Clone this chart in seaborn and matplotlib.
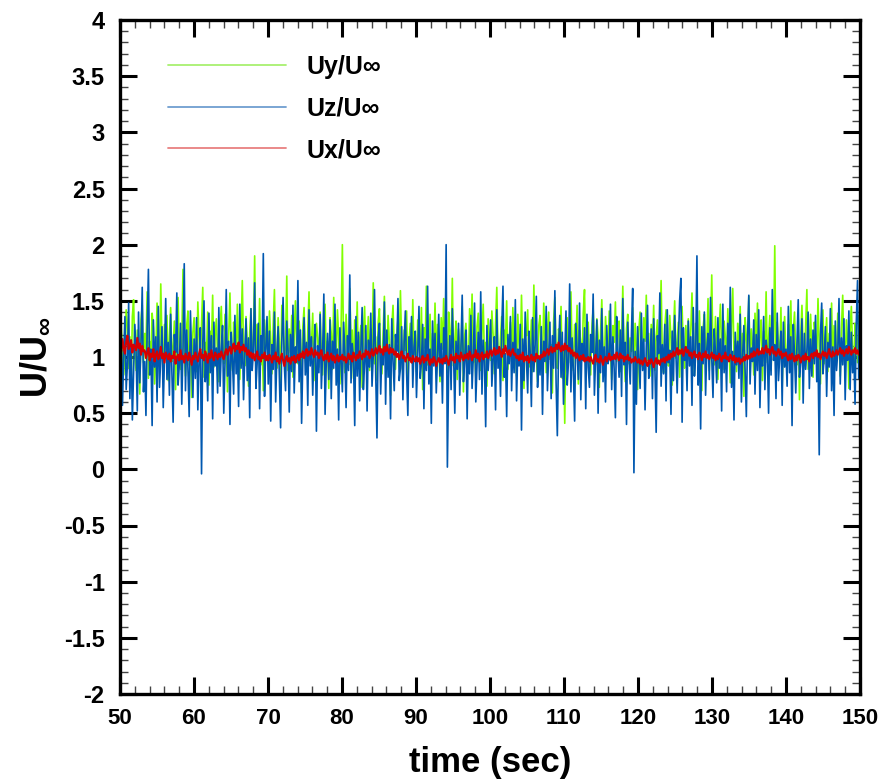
import numpy as np
import pandas as pd
import matplotlib
matplotlib.use("Agg")
import matplotlib.pyplot as plt
import seaborn as sns
from matplotlib.ticker import MultipleLocator
from matplotlib.lines import Line2D

# ---------------- data ----------------
t_start, t_end = 50.0, 150.0

uy = [
    1.12, 1.31, 0.98, 0.84, 1.05, 1.42, 1.27, 0.90, 1.18, 0.73, 1.36, 1.51, 1.02, 0.88, 1.24, 1.09, 0.67, 1.33, 1.46, 0.95,
    1.21, 1.07, 1.58, 0.81, 1.14, 0.99, 1.39, 1.26, 0.76, 1.03, 1.48, 1.17, 0.92, 1.65, 1.11, 0.86, 1.29, 1.01, 1.37, 0.79,
    1.19, 1.44, 0.96, 1.08, 1.32, 0.71, 1.25, 1.53, 1.06, 0.89, 1.15, 1.78, 1.00, 0.83, 1.28, 1.41, 0.93, 1.10, 0.64, 1.22,
    1.35, 1.04, 0.87, 1.49, 1.16, 0.97, 1.30, 1.62, 0.82, 1.13, 1.02, 1.40, 0.75, 1.23, 1.08, 1.55, 0.91, 1.19, 1.34, 0.99,
    0.78, 1.27, 1.45, 1.06, 0.94, 1.38, 1.12, 0.69, 1.20, 1.57, 1.03, 0.88, 1.31, 1.17, 0.95, 1.47, 1.09, 0.80, 1.26, 1.68,
    1.05, 0.92, 1.36, 1.14, 0.74, 1.22, 1.43, 0.98, 1.11, 1.90, 0.86, 1.29, 1.02, 1.52, 0.93, 1.18, 0.70, 1.33, 1.07, 1.24,
    0.96, 1.41, 1.16, 0.85, 1.28, 1.60, 1.01, 0.90, 1.35, 1.13, 0.77, 1.46, 1.21, 0.99, 1.10, 1.72, 0.88, 1.25, 1.04, 1.37,
    0.82, 1.19, 1.50, 1.06, 0.94, 1.32, 1.15, 0.68, 1.27, 1.44, 1.00, 0.87, 1.23, 1.58, 0.97, 1.12, 1.39, 0.79, 1.08, 1.30,
    1.17, 0.91, 1.40, 1.03, 0.84, 1.26, 1.47, 0.95, 1.14, 0.72, 1.35, 1.21, 0.89, 1.53, 1.07, 0.99, 1.42, 1.18, 0.76, 1.29,
    2.00, 1.04, 0.86, 1.38, 1.13, 0.93, 1.61, 1.09, 1.24, 0.81, 1.33, 1.02, 1.49, 0.90, 1.16, 1.28, 0.73, 1.20, 1.45, 0.98,
    1.11, 1.36, 0.88, 1.25, 1.05, 1.66, 0.94, 1.18, 0.79, 1.31, 1.43, 1.00, 0.85, 1.22, 1.54, 1.08, 0.92, 1.37, 1.14, 0.66,
    1.27, 1.46, 1.03, 0.89, 1.19, 1.34, 0.97, 1.59, 1.10, 0.83, 1.24, 1.06, 1.41, 0.75, 1.15, 1.30, 0.95, 1.51, 1.02, 1.20,
    0.87, 1.33, 1.12, 0.99, 1.44, 0.71, 1.26, 1.08, 1.63, 0.93, 1.17, 1.38, 0.84, 1.21, 1.04, 1.48, 0.91, 1.29, 1.13, 0.78,
    1.35, 1.07, 1.52, 0.96, 1.18, 0.86, 1.40, 1.23, 1.01, 1.70, 0.92, 1.14, 1.32, 0.80, 1.25, 1.09, 0.98, 1.45, 0.69, 1.19,
    1.30, 1.02, 0.90, 1.43, 1.16, 1.56, 0.95, 1.11, 0.82, 1.27, 1.39, 1.05, 0.88, 1.22, 1.47, 1.00, 1.13, 0.74, 1.34, 1.08,
    0.97, 1.41, 1.20, 0.85, 1.29, 1.62, 1.03, 0.93, 1.17, 1.36, 0.79, 1.24, 1.10, 1.50, 0.89, 1.15, 1.31, 0.96, 1.44, 1.06,
    1.21, 0.83, 1.38, 1.12, 0.99, 1.55, 1.04, 0.72, 1.26, 1.19, 1.42, 0.91, 1.08, 1.33, 0.87, 1.64, 1.14, 1.01, 0.78, 1.28,
    1.37, 1.05, 0.94, 1.48, 1.18, 0.86, 1.23, 1.40, 0.98, 1.11, 0.68, 1.32, 1.53, 1.02, 0.90, 1.25, 1.16, 1.45, 0.81, 1.09,
    0.41, 1.20, 1.35, 0.95, 1.13, 1.58, 1.03, 0.88, 1.29, 1.07, 1.46, 0.76, 1.24, 1.12, 0.97, 1.39, 1.60, 0.92, 1.17, 1.31,
    1.00, 0.84, 1.27, 1.43, 1.08, 0.93, 1.34, 1.19, 0.73, 1.22, 1.51, 1.04, 0.89, 1.36, 1.15, 0.99, 1.41, 1.06, 0.80, 1.28,
    1.13, 1.49, 0.96, 1.20, 1.32, 0.87, 1.10, 1.63, 1.01, 0.78, 1.25, 1.38, 0.94, 1.17, 1.05, 1.44, 0.85, 1.30, 1.09, 0.71,
    1.24, 1.40, 1.02, 0.91, 1.35, 1.14, 1.55, 0.97, 1.21, 0.83, 1.29, 1.07, 1.46, 0.88, 1.18, 1.33, 0.95, 1.12, 1.68, 1.00,
    0.86, 1.27, 1.42, 1.04, 0.92, 1.37, 1.16, 0.75, 1.23, 1.50, 0.99, 1.11, 1.31, 0.82, 1.19, 1.45, 1.03, 0.90, 1.28, 1.08,
    1.34, 0.97, 1.22, 1.57, 1.06, 0.84, 1.30, 1.15, 0.94, 1.41, 1.02, 0.70, 1.26, 1.38, 0.99, 1.13, 1.52, 0.88, 1.20, 1.73,
    1.01, 0.93, 1.36, 1.10, 0.80, 1.24, 1.47, 1.05, 0.89, 1.32, 1.18, 0.96, 1.43, 1.07, 0.77, 1.28, 1.61, 1.00, 1.14, 0.87,
    1.30, 1.09, 1.45, 0.94, 1.21, 0.65, 1.35, 1.17, 1.02, 1.54, 0.91, 1.25, 1.11, 0.84, 1.39, 1.06, 1.48, 0.97, 1.19, 1.33,
    0.79, 1.23, 1.04, 1.58, 0.95, 1.16, 1.37, 0.88, 1.27, 1.08, 1.99, 0.92, 1.31, 1.12, 0.98, 1.44, 0.74, 1.20, 1.36, 1.03,
    0.90, 1.29, 1.15, 1.50, 0.85, 1.22, 1.40, 1.01, 0.93, 1.34, 0.62, 1.19, 1.46, 1.07, 0.96, 1.27, 1.60, 0.89, 1.13, 1.38,
    1.05, 0.82, 1.31, 1.18, 0.99, 1.52, 1.08, 0.76, 1.25, 1.42, 0.94, 1.14, 1.35, 0.87, 1.21, 1.03, 1.48, 0.92, 1.28, 1.10,
    0.97, 1.39, 1.16, 0.83, 1.26, 1.55, 1.00, 0.91, 1.33, 1.12, 0.72, 1.24, 1.45, 1.06, 0.88, 1.30, 1.19, 0.95, 1.37, 1.02,
]

uz = [
    0.82, 1.21, 0.57, 1.02, 1.36, 0.71, 0.94, 1.48, 0.63, 1.15, 0.44, 0.88, 1.29, 1.05, 0.52, 1.40, 0.77, 1.11, 1.62, 0.69,
    0.96, 0.48, 1.25, 1.78, 0.84, 1.07, 0.39, 1.33, 0.91, 1.18, 0.60, 1.45, 0.73, 1.01, 1.27, 0.55, 0.99, 1.52, 0.80, 1.13,
    0.66, 1.38, 0.87, 0.42, 1.20, 1.04, 1.57, 0.75, 0.93, 1.30, 0.58, 1.09, 1.83, 0.70, 1.24, 0.89, 0.47, 1.41, 1.00, 0.64,
    1.16, 0.81, 1.35, 0.53, 0.97, 1.26, -0.04, 1.12, 1.50, 0.78, 1.03, 0.61, 1.39, 0.86, 1.19, 0.45, 1.31, 0.92, 1.08, 0.68,
    1.44, 0.74, 1.06, 1.28, 0.50, 0.95, 1.60, 0.83, 1.14, 0.40, 1.22, 0.98, 0.67, 1.37, 0.85, 1.10, 0.56, 1.47, 0.90, 1.25,
    0.62, 1.01, 1.34, 0.79, 1.17, 0.46, 1.43, 0.88, 1.05, 1.66, 0.72, 0.94, 1.30, 0.54, 1.19, 0.99, 1.92, 0.65, 1.08, 1.36,
    0.76, 1.23, 0.43, 1.11, 0.89, 1.40, 0.60, 1.02, 1.27, 0.81, 0.37, 1.15, 1.53, 0.93, 0.70, 1.32, 1.06, 0.51, 1.20, 0.87,
    1.46, 0.68, 1.09, 0.95, 1.68, 0.78, 1.24, 0.41, 1.00, 1.35, 0.84, 1.13, 0.57, 1.42, 0.92, 1.18, 0.66, 1.05, 1.29, 0.34,
    1.10, 0.86, 1.38, 0.72, 1.03, 1.56, 0.49, 0.97, 1.21, 0.80, 1.33, 0.63, 1.14, 0.90, 1.47, 0.75, 1.07, 0.44, 1.26, 0.96,
    0.69, 1.31, 1.04, 0.55, 1.19, 0.88, 1.73, 0.77, 1.12, 0.98, 0.39, 1.36, 0.83, 1.22, 0.61, 1.08, 1.44, 0.71, 0.94, 1.28,
    0.52, 1.15, 0.91, 1.39, 0.74, 1.01, 1.60, 0.85, 0.28, 1.17, 1.30, 0.67, 1.06, 0.93, 1.49, 0.58, 1.24, 0.82, 1.11, 0.45,
    1.34, 0.97, 0.70, 1.20, 1.05, 1.52, 0.79, 0.90, 1.27, 0.62, 1.13, 1.41, 0.86, 0.48, 1.18, 0.99, 1.36, 0.73, 1.09, 1.23,
    0.64, 1.02, 1.45, 0.81, 0.95, 1.29, 0.54, 1.16, 0.88, 1.63, 0.76, 1.07, 0.41, 1.32, 0.92, 1.21, 0.68, 1.00, 1.38, 0.83,
    1.12, 0.59, 1.26, 0.94, 2.00, 0.02, 0.87, 1.19, 0.71, 1.43, 1.04, 0.50, 1.14, 0.89, 1.30, 0.66, 1.08, 1.55, 0.78, 0.97,
    1.24, 0.45, 1.10, 0.85, 1.37, 0.72, 1.01, 1.48, 0.60, 0.93, 1.22, 0.80, 1.58, 0.67, 1.15, 0.96, 0.38, 1.28, 0.88, 1.06,
    1.33, 0.74, 0.99, 1.18, 0.53, 1.42, 0.90, 1.09, 0.65, 1.25, 1.63, 0.82, 1.03, 0.47, 1.20, 0.94, 1.36, 0.70, 1.13, 0.86,
    1.51, 0.61, 1.07, 0.92, 1.29, 0.35, 1.16, 0.79, 1.40, 0.98, 0.68, 1.23, 1.05, 0.56, 1.35, 0.87, 1.11, 1.54, 0.73, 1.00,
    0.84, 1.27, 0.49, 1.14, 0.96, 1.45, 0.70, 1.03, 1.31, 0.63, 1.19, 0.90, 1.59, 0.77, 0.30, 1.08, 1.37, 0.82, 1.22, 0.58,
    1.02, 1.41, 0.75, 0.95, 1.65, 0.69, 1.17, 0.88, 0.43, 1.30, 1.06, 0.80, 1.48, 0.62, 1.12, 0.97, 1.26, 0.54, 1.38, 0.91,
    0.73, 1.20, 1.04, 1.56, 0.66, 0.99, 1.33, 0.50, 1.15, 0.86, 1.43, 0.78, 1.09, 0.60, 1.28, 0.94, 1.01, 1.47, 0.71, 1.18,
    0.89, 0.46, 1.36, 1.07, 0.82, 1.24, 0.65, 1.52, 0.93, 1.13, 0.40, 1.31, 0.98, 0.76, 1.21, 1.61, -0.03, 1.05, 0.58, 1.27,
    1.00, 0.72, 1.39, 0.88, 1.16, 0.53, 1.08, 1.46, 0.81, 0.96, 1.25, 0.63, 1.34, 0.90, 0.33, 1.19, 1.03, 1.57, 0.74, 1.11,
    0.85, 1.29, 0.61, 1.42, 0.95, 1.06, 0.49, 1.23, 0.79, 1.37, 1.01, 0.68, 1.14, 1.50, 1.70, 0.42, 1.26, 0.97, 1.09, 0.70,
    1.32, 0.92, 1.18, 0.57, 1.44, 0.83, 1.02, 1.90, 0.75, 1.12, 0.36, 1.27, 0.94, 1.40, 0.66, 1.07, 1.21, 0.80, 1.53, 0.99,
    0.64, 1.25, 1.04, 0.77, 1.35, 0.90, 1.16, 0.52, 1.47, 0.86, 1.10, 0.69, 1.30, 0.98, 1.62, 0.73, 1.05, 0.44, 1.22, 0.93,
    1.14, 0.81, 1.38, 0.60, 1.01, 1.28, 0.89, 0.47, 1.19, 1.55, 0.76, 1.08, 0.96, 1.33, 0.67, 1.20, 0.88, 1.42, 0.55, 1.03,
    0.92, 1.36, 0.71, 1.15, 1.04, 0.50, 1.26, 0.84, 1.60, 0.97, 1.11, 0.63, 1.39, 0.79, 1.00, 1.23, 0.57, 1.31, 0.91, 1.07,
    0.74, 1.45, 0.86, 1.18, 0.39, 1.29, 1.02, 0.68, 1.12, 1.51, 0.82, 0.95, 1.34, 0.59, 1.21, 0.89, 1.06, 1.40, 0.72, 1.16,
    0.83, 1.24, 0.94, 1.37, 0.78, 1.03, 0.13, 1.20, 1.48, 0.85, 0.99, 1.27, 0.65, 1.13, 0.91, 1.43, 0.70, 1.09, 0.48, 1.32,
    0.88, 1.05, 1.52, 0.76, 1.17, 0.93, 1.34, 0.62, 1.10, 0.97, 1.41, 0.71, 1.22, 0.86, 1.03, 0.58, 1.30, 1.68, 0.81, 1.15,
]

ux = [
    1.12, 1.05, 1.16, 1.08, 1.03, 1.13, 1.19, 1.07, 1.10, 1.15, 1.04, 1.11, 1.09, 1.06, 1.17, 1.08, 1.12, 1.02, 1.10, 1.05,
    1.06, 0.99, 1.04, 1.08, 0.97, 1.03, 1.00, 1.07, 0.96, 1.02, 1.05, 0.98, 1.01, 1.09, 0.99, 1.03, 0.95, 1.04, 1.01, 0.98,
    1.03, 0.96, 1.01, 0.99, 1.05, 0.94, 1.00, 1.02, 0.97, 1.06, 0.98, 1.01, 0.95, 1.03, 1.00, 0.97, 1.04, 0.99, 0.93, 1.01,
    0.98, 1.04, 1.00, 0.96, 1.03, 1.07, 0.99, 1.02, 0.97, 1.05, 1.01, 0.95, 1.03, 0.99, 1.06, 1.00, 0.97, 1.04, 1.02, 0.98,
    1.03, 1.00, 1.05, 1.01, 0.98, 1.04, 1.07, 1.02, 1.06, 1.09, 1.03, 1.08, 1.12, 1.05, 1.10, 1.07, 1.13, 1.04, 1.09, 1.06,
    1.11, 1.05, 1.08, 1.02, 1.06, 1.00, 1.04, 0.99, 1.03, 0.97, 1.01, 1.05, 0.98, 1.00, 0.96, 1.02, 0.99, 1.04, 0.97, 1.01,
    0.97, 1.02, 0.99, 0.95, 1.01, 0.98, 1.04, 0.96, 1.00, 0.94, 0.99, 1.03, 0.97, 0.92, 0.98, 1.01, 0.96, 0.99, 0.94, 1.00,
    0.97, 1.01, 0.95, 0.99, 1.02, 0.97, 1.03, 1.00, 1.05, 0.99, 1.04, 1.07, 1.01, 1.05, 1.02, 1.08, 1.03, 1.00, 1.06, 1.02,
    1.04, 0.99, 1.03, 1.06, 1.00, 0.97, 1.02, 0.98, 1.04, 0.96, 1.00, 1.03, 0.97, 1.01, 0.95, 0.99, 1.02, 0.96, 1.00, 0.98,
    1.02, 0.97, 1.00, 0.95, 0.99, 1.03, 0.98, 1.01, 0.96, 1.04, 1.00, 0.97, 1.02, 0.99, 1.05, 1.01, 0.98, 1.03, 1.00, 1.06,
    1.02, 1.05, 0.99, 1.03, 1.07, 1.01, 1.04, 1.08, 1.03, 1.06, 1.10, 1.04, 1.07, 1.02, 1.09, 1.05, 1.11, 1.06, 1.03, 1.08,
    1.04, 1.07, 1.02, 1.05, 1.00, 1.03, 0.98, 1.02, 1.05, 0.99, 1.01, 0.96, 1.00, 1.03, 0.97, 0.99, 0.95, 1.01, 0.98, 0.96,
    1.00, 0.96, 0.99, 0.94, 0.98, 1.01, 0.95, 0.99, 0.97, 1.02, 0.96, 0.93, 0.98, 0.95, 1.00, 0.97, 0.92, 0.96, 0.99, 0.95,
    0.98, 0.94, 0.99, 0.96, 1.01, 0.97, 0.93, 0.98, 1.02, 0.97, 1.00, 0.95, 1.03, 0.99, 1.01, 0.96, 1.04, 1.00, 0.97, 1.02,
    0.99, 1.03, 0.98, 1.05, 1.01, 0.97, 1.02, 1.00, 1.06, 0.99, 1.03, 0.96, 1.01, 1.04, 0.98, 1.02, 1.00, 1.05, 0.99, 1.03,
    1.06, 1.01, 1.05, 1.08, 1.02, 1.06, 1.03, 1.09, 1.04, 1.00, 1.07, 1.03, 1.10, 1.05, 1.02, 1.06, 1.01, 1.04, 1.07, 1.02,
    1.03, 0.99, 1.01, 0.97, 1.02, 0.98, 1.04, 0.96, 1.00, 0.97, 1.01, 0.95, 0.99, 1.02, 0.97, 1.00, 0.96, 1.03, 0.99, 1.01,
    0.98, 1.02, 1.00, 1.05, 1.01, 1.04, 1.07, 1.02, 1.06, 1.09, 1.04, 1.08, 1.05, 1.11, 1.07, 1.13, 1.08, 1.05, 1.10, 1.06,
    1.12, 1.07, 1.10, 1.05, 1.08, 1.03, 1.06, 1.01, 1.04, 0.99, 1.03, 1.00, 0.97, 1.01, 0.98, 1.02, 0.96, 0.99, 0.97, 1.00,
    0.96, 1.00, 0.97, 0.94, 0.99, 1.02, 0.96, 0.98, 0.95, 1.01, 0.97, 0.93, 0.98, 1.00, 0.96, 0.99, 1.03, 0.97, 1.00, 0.98,
    1.02, 0.98, 1.04, 1.00, 0.97, 1.03, 0.99, 1.01, 0.96, 1.00, 0.98, 1.02, 0.97, 0.99, 0.95, 0.98, 0.96, 1.00, 0.97, 0.95,
    0.98, 0.94, 0.97, 0.93, 0.96, 0.99, 0.95, 0.92, 0.97, 0.94, 0.98, 0.95, 0.91, 0.96, 0.99, 0.94, 0.97, 0.93, 0.98, 0.96,
    0.99, 0.95, 1.00, 0.97, 1.02, 0.98, 1.03, 1.00, 1.05, 1.01, 1.04, 1.08, 1.02, 1.06, 1.03, 1.07, 1.01, 1.05, 1.09, 1.04,
    1.06, 1.01, 1.04, 0.99, 1.03, 1.05, 1.00, 1.02, 0.98, 1.04, 1.01, 0.97, 1.03, 1.00, 1.05, 0.99, 1.02, 0.98, 1.01, 1.04,
    0.99, 1.02, 0.97, 1.01, 0.98, 1.03, 1.00, 0.96, 1.01, 0.99, 1.04, 0.98, 1.00, 0.96, 1.02, 0.99, 0.97, 1.01, 0.95, 0.99,
    0.96, 0.99, 0.94, 0.98, 0.96, 1.00, 0.97, 1.02, 0.98, 1.01, 0.99, 1.03, 1.00, 1.05, 1.01, 1.04, 1.07, 1.02, 1.05, 1.03,
    1.08, 1.03, 1.06, 1.10, 1.04, 1.07, 1.02, 1.06, 1.09, 1.03, 1.05, 1.01, 1.04, 1.07, 1.02, 1.05, 0.99, 1.03, 1.01, 1.04,
    1.00, 0.97, 1.02, 0.98, 1.03, 0.99, 0.96, 1.01, 0.97, 1.02, 1.00, 0.95, 0.99, 1.01, 0.97, 1.03, 0.98, 1.00, 0.96, 1.01,
    1.03, 0.99, 1.04, 1.01, 1.06, 1.00, 1.03, 0.98, 1.02, 1.05, 1.01, 1.04, 0.99, 1.03, 1.07, 1.02, 1.00, 1.05, 1.01, 1.03,
    1.06, 1.02, 1.05, 1.08, 1.03, 1.06, 1.01, 1.04, 1.07, 1.03, 1.09, 1.05, 1.02, 1.06, 1.04, 1.08, 1.03, 1.06, 1.02, 1.05,
]

series_labels = ["Uy/U\u221e", "Uz/U\u221e", "Ux/U\u221e"]
series_colors = ["#80FF00", "#0058B0", "#D80000"]
series_widths = [1.2, 1.2, 1.5]
legend_colors = ["#A8F070", "#6F9ED0", "#E88080"]
x_ticks = [50, 60, 70, 80, 90, 100, 110, 120, 130, 140, 150]
y_ticks = [-2, -1.5, -1, -0.5, 0, 0.5, 1, 1.5, 2, 2.5, 3, 3.5, 4]
y_tick_labels = ["-2", "-1.5", "-1", "-0.5", "0", "0.5", "1", "1.5", "2", "2.5", "3", "3.5", "4"]

# ---------------- style ----------------
sns.set_theme(style="white")
plt.rcParams['font.family'] = ['Liberation Sans', 'DejaVu Sans']
plt.rcParams['font.weight'] = 'bold'
plt.rcParams['text.color'] = 'black'
plt.rcParams['axes.labelcolor'] = 'black'
plt.rcParams['xtick.color'] = 'black'
plt.rcParams['ytick.color'] = 'black'
plt.rcParams['axes.unicode_minus'] = False
plt.rcParams['mathtext.fontset'] = 'custom'
plt.rcParams['mathtext.rm'] = 'Liberation Sans:bold'
plt.rcParams['mathtext.bf'] = 'Liberation Sans:bold'
plt.rcParams['mathtext.it'] = 'Liberation Sans:bold'
plt.rcParams['mathtext.default'] = 'regular'

fig = plt.figure(figsize=(8.85, 7.84), dpi=100)
ax = fig.add_axes([120 / 885, 1 - 694 / 784, 740 / 885, 674 / 784])

frames = []
for name, vals in zip(series_labels, [uy, uz, ux]):
    t = np.linspace(t_start, t_end, len(vals))
    frames.append(pd.DataFrame({"time": t, "value": vals, "series": name}))
df = pd.concat(frames, ignore_index=True)

for name, col, lw in zip(series_labels, series_colors, series_widths):
    sub = df[df["series"] == name]
    sns.lineplot(data=sub, x="time", y="value", color=col, linewidth=lw,
                 estimator=None, sort=False, ax=ax, legend=False)

ax.set_xlim(50, 150)
ax.set_ylim(-2, 4)
ax.set_xticks(x_ticks)
ax.set_xticklabels([str(v) for v in x_ticks], fontsize=16, fontweight='bold',
                   color='black')
ax.set_yticks(y_ticks)
ax.set_yticklabels(y_tick_labels, fontsize=17, fontweight='bold', color='black')
ax.xaxis.set_minor_locator(MultipleLocator(2))
ax.yaxis.set_minor_locator(MultipleLocator(0.1))
ax.tick_params(which='major', direction='in', length=12, width=2.2, color='black',
               top=True, right=True, bottom=True, left=True)
ax.tick_params(axis='x', which='major', pad=10)
ax.tick_params(axis='y', which='major', pad=11)
ax.tick_params(which='minor', direction='in', length=6, width=1.0, color='#444444',
               top=True, right=True, bottom=True, left=True)
for sp in ax.spines.values():
    sp.set_visible(True)
    sp.set_color('black')
    sp.set_linewidth(2.4)

ax.set_xlabel("time (sec)", fontsize=25, fontweight='bold', labelpad=12, color='black')
ax.set_ylabel(r"U/U$_{\infty}$", fontsize=26, fontweight='bold', labelpad=8, color='black')

handles = [Line2D([0], [0], color=c, linewidth=1.3) for c in legend_colors]
leg = ax.legend(handles, series_labels, loc='upper left', bbox_to_anchor=(0.065, 0.948),
                frameon=False, fontsize=18, handlelength=4.7, handletextpad=0.85,
                labelspacing=0.7, borderaxespad=0, borderpad=0)
for txt in leg.get_texts():
    txt.set_fontweight('bold')
    txt.set_color('black')

fig.savefig("out.png", dpi=100)
